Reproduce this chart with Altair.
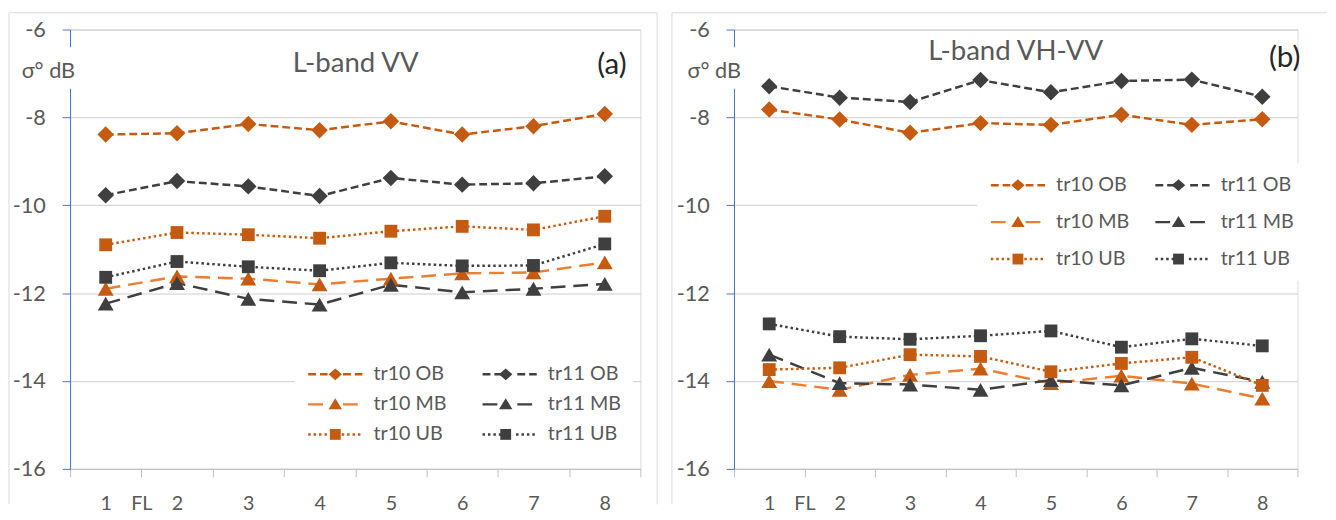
import altair as alt
import pandas as pd

# ---------------- data ----------------
x_cats = [1, 2, 3, 4, 5, 6, 7, 8]
series_names = ["tr10 OB", "tr11 OB", "tr10 MB", "tr11 MB", "tr10 UB", "tr11 UB"]

# panel (a) L-band VV
vv_tr10_ob = [-8.39, -8.36, -8.15, -8.29, -8.09, -8.39, -8.20, -7.92]
vv_tr11_ob = [-9.77, -9.45, -9.57, -9.79, -9.38, -9.53, -9.50, -9.34]
vv_tr10_mb = [-11.90, -11.62, -11.67, -11.80, -11.67, -11.55, -11.53, -11.30]
vv_tr11_mb = [-12.24, -11.77, -12.13, -12.26, -11.81, -11.98, -11.90, -11.79]
vv_tr10_ub = [-10.90, -10.62, -10.67, -10.75, -10.59, -10.48, -10.56, -10.25]
vv_tr11_ub = [-11.64, -11.28, -11.40, -11.49, -11.31, -11.38, -11.37, -10.88]

# panel (b) L-band VH-VV
vhvv_tr10_ob = [-7.82, -8.05, -8.35, -8.13, -8.17, -7.94, -8.17, -8.04]
vhvv_tr11_ob = [-7.29, -7.55, -7.65, -7.15, -7.43, -7.17, -7.14, -7.53]
vhvv_tr10_mb = [-14.00, -14.20, -13.86, -13.72, -14.05, -13.88, -14.06, -14.40]
vhvv_tr11_mb = [-13.40, -14.05, -14.08, -14.20, -13.98, -14.10, -13.70, -14.02]
vhvv_tr10_ub = [-13.74, -13.70, -13.40, -13.44, -13.79, -13.60, -13.46, -14.10]
vhvv_tr11_ub = [-12.70, -12.99, -13.05, -12.97, -12.86, -13.23, -13.04, -13.20]

y_ticks = [-16, -14, -12, -10, -8, -6]
x_ticks = [0.5, 1, 1.5, 2, 2.5, 3, 3.5, 4, 4.5, 5, 5.5, 6, 6.5, 7, 7.5, 8, 8.5]

# ---------------- styles ----------------
FONT = "Lato"
TXT = "#595959"
ORANGE = "#C55A11"
ORANGE_L = "#ED7D31"
DARK = "#3F3F3F"
BLUE = "#4472C4"
GRID = "#CCCCCC"
BORDER = "#D9D9D9"

fill_range = [ORANGE, DARK, ORANGE, DARK, ORANGE, DARK]
stroke_range = [ORANGE, DARK, ORANGE_L, DARK, ORANGE, DARK]
dash_range = [[8, 4], [8, 4], [15, 8], [15, 8], [2.5, 3], [2.5, 3]]

# legend symbols: a 55px line (one legend) and a marker (an overlaid legend)
SYM_SIZE = 196          # sqrt -> 14px, path unit r = 7px
R = 7.0
SYM_C = (14 + 2.5) / 2  # symbol centre from the entry's left edge
SYM_W = 55.0
MARK_HALF = {"diamond": (6.8, 6.0), "triangle": (6.8, 6.2), "square": (5.5, 5.5)}


def u(px):
    return round((px - SYM_C) / R, 3)


def line_path(kind):
    hw = MARK_HALF[kind][0]
    mc = SYM_W / 2
    return f"M{u(0)},0L{u(mc - hw - 1)},0M{u(mc + hw + 1)},0L{u(SYM_W)},0"


def mark_path(kind):
    hw, hh = MARK_HALF[kind]
    mc = SYM_W / 2
    if kind == "diamond":
        return f"M{u(mc)},{-hh / R:.3f}L{u(mc + hw)},0L{u(mc)},{hh / R:.3f}L{u(mc - hw)},0Z"
    if kind == "triangle":
        return f"M{u(mc)},{-hh / R:.3f}L{u(mc + hw)},{hh * 0.8 / R:.3f}L{u(mc - hw)},{hh * 0.8 / R:.3f}Z"
    return (f"M{u(mc - hw)},{-hh / R:.3f}L{u(mc + hw)},{-hh / R:.3f}"
            f"L{u(mc + hw)},{hh / R:.3f}L{u(mc - hw)},{hh / R:.3f}Z")


kinds = ["diamond", "diamond", "triangle", "triangle", "square", "square"]
line_shape_range = [line_path(k) for k in kinds]
mark_shape_range = [mark_path(k) for k in kinds]
marker_shapes = [("OB", "diamond", 280), ("MB", "triangle-up", 260), ("UB", "square", 170)]
COL1_LABEL_W = 75


def one(text):
    return pd.DataFrame({"t": [text]})


def panel(vals, title, tag, width, height, title_xy, tag_xy, sig_x,
          leg_x, leg_y, row_pad, col_pad, border):
    rows = []
    for name, v in zip(series_names, vals):
        grp = name.split()[1]
        for x, y in zip(x_cats, v):
            rows.append({"series": name, "grp": grp, "x": x, "value": y})
    df = pd.DataFrame(rows)

    X = alt.X("x:Q", title=None,
              scale=alt.Scale(domain=[0.5, 8.5], nice=False, zero=False),
              axis=alt.Axis(values=x_ticks, grid=False, domainColor="#BFBFBF",
                            tickColor="#BFBFBF", tickSize=8, labelPadding=17,
                            labelFontSize=20, labelColor=TXT, labelOverlap=False,
                            labelFlush=False,
                            labelExpr="datum.value == 1.5 ? 'FL' : (datum.value % 1 == 0 ? '' + datum.value : '')",
                            tickOpacity={"condition": {"test": "datum.value % 1 == 0", "value": 0}, "value": 1}))
    Y = alt.Y("value:Q", title=None,
              scale=alt.Scale(domain=[-16, -6], nice=False, zero=False),
              axis=alt.Axis(values=y_ticks, grid=True, gridColor=GRID,
                            domainColor=BLUE, tickColor=BLUE, tickSize=8,
                            labelPadding=17, labelFontSize=22, labelColor=TXT,
                            labelExpr="'' + datum.value"))

    base = alt.Chart(df)
    common = dict(orient="none", legendX=leg_x, legendY=leg_y, columns=2, title=None,
                  direction="horizontal", labelFontSize=20, labelFont=FONT,
                  symbolSize=SYM_SIZE, symbolOpacity=1, rowPadding=row_pad,
                  labelOffset=SYM_W - 17 + 10, padding=12)
    leg_lines = alt.Legend(labelColor=TXT, symbolStrokeWidth=2.5, columnPadding=col_pad,
                           fillColor="white", zindex=1, **common)
    leg_marks = alt.Legend(labelExpr="''", symbolStrokeWidth=0,
                           columnPadding=col_pad + COL1_LABEL_W, zindex=2, **common)

    fill_scale = alt.Scale(domain=series_names, range=fill_range)
    stroke_scale = alt.Scale(domain=series_names, range=stroke_range)
    dash_scale = alt.Scale(domain=series_names, range=dash_range)
    line_shape_scale = alt.Scale(domain=series_names, range=line_shape_range)
    mark_shape_scale = alt.Scale(domain=series_names, range=mark_shape_range)

    lines = base.mark_line(strokeWidth=2.5).encode(
        x=X, y=Y,
        stroke=alt.Stroke("series:N", scale=stroke_scale, legend=None),
        strokeDash=alt.StrokeDash("series:N", scale=dash_scale, legend=None),
    )
    markers = []
    for grp, shp, sz in marker_shapes:
        markers.append(
            base.mark_point(shape=shp, filled=True, size=sz, opacity=1)
            .transform_filter(alt.datum.grp == grp)
            .encode(x=X, y=Y,
                    color=alt.Color("series:N", scale=fill_scale, legend=None))
        )
    legend_lines = base.mark_point(filled=False, size=SYM_SIZE, strokeWidth=2.5, opacity=1).transform_filter(
        "false").encode(
        x=X, y=Y,
        stroke=alt.Stroke("series:N", scale=stroke_scale, legend=leg_lines),
        strokeDash=alt.StrokeDash("series:N", scale=dash_scale, legend=leg_lines),
        shape=alt.Shape("series:N", scale=line_shape_scale, legend=leg_lines),
    )
    legend_marks = base.mark_point(filled=True, size=SYM_SIZE, strokeWidth=0, opacity=1).transform_filter(
        "false").encode(
        x=X, y=Y,
        color=alt.Color("series:N", scale=fill_scale, legend=leg_marks),
        shape=alt.Shape("series:N", scale=mark_shape_scale, legend=leg_marks),
    )

    bl, bt, br, bb = border
    deco = [
        alt.Chart(one("a")).mark_rule(color=BORDER, strokeWidth=1).encode(
            x=alt.value(bl), y=alt.value(bt), y2=alt.value(bb)),
        alt.Chart(one("b")).mark_rule(color=BORDER, strokeWidth=1).encode(
            x=alt.value(bl), x2=alt.value(br if br is not None else width + 30), y=alt.value(bt)),
    ]
    if br is not None:
        deco.append(alt.Chart(one("c")).mark_rule(color=BORDER, strokeWidth=1).encode(
            x=alt.value(br), y=alt.value(bt), y2=alt.value(bb)))
    deco.append(alt.Chart(one("w")).mark_rect(color="white").encode(
        x=alt.value(sig_x - 36), x2=alt.value(3), y=alt.value(18), y2=alt.value(60)))

    texts = [
        alt.Chart(one(title)).mark_text(fontSize=28, color=TXT, font=FONT).encode(
            text="t:N", x=alt.value(title_xy[0]), y=alt.value(title_xy[1])),
        alt.Chart(one(tag)).mark_text(fontSize=30, color="#262626", font=FONT).encode(
            text="t:N", x=alt.value(tag_xy[0]), y=alt.value(tag_xy[1])),
        alt.Chart(one("σ° dB")).mark_text(fontSize=22, color=TXT, font=FONT).encode(
            text="t:N", x=alt.value(sig_x), y=alt.value(42)),
    ]

    return alt.layer(*deco, lines, *markers, legend_lines, legend_marks, *texts).resolve_scale(
        color="independent", stroke="independent", strokeDash="independent", shape="independent"
    ).properties(width=width, height=height)


left = panel([vv_tr10_ob, vv_tr11_ob, vv_tr10_mb, vv_tr11_mb, vv_tr10_ub, vv_tr11_ub],
             "L-band VV", "(a)", 579, 446, (290, 35), (550, 36), -22,
             228, 328, 10.5, 30, (-62, -17, 596, 482))
right = panel([vhvv_tr10_ob, vhvv_tr11_ob, vhvv_tr10_mb, vhvv_tr11_mb, vhvv_tr10_ub, vhvv_tr11_ub],
              "L-band VH-VV", "(b)", 572, 446, (286, 23), (559, 29), -20,
              247, 136, 17.5, 20, (-63, -17, None, 482))

chart = alt.hconcat(left, right, spacing=13).resolve_scale(
    color="independent", stroke="independent", strokeDash="independent",
    shape="independent", x="independent", y="independent"
).properties(padding=0).configure(font=FONT).configure_view(stroke=BORDER)

chart.save("out.html", embed_options={"renderer": "svg", "actions": False})
